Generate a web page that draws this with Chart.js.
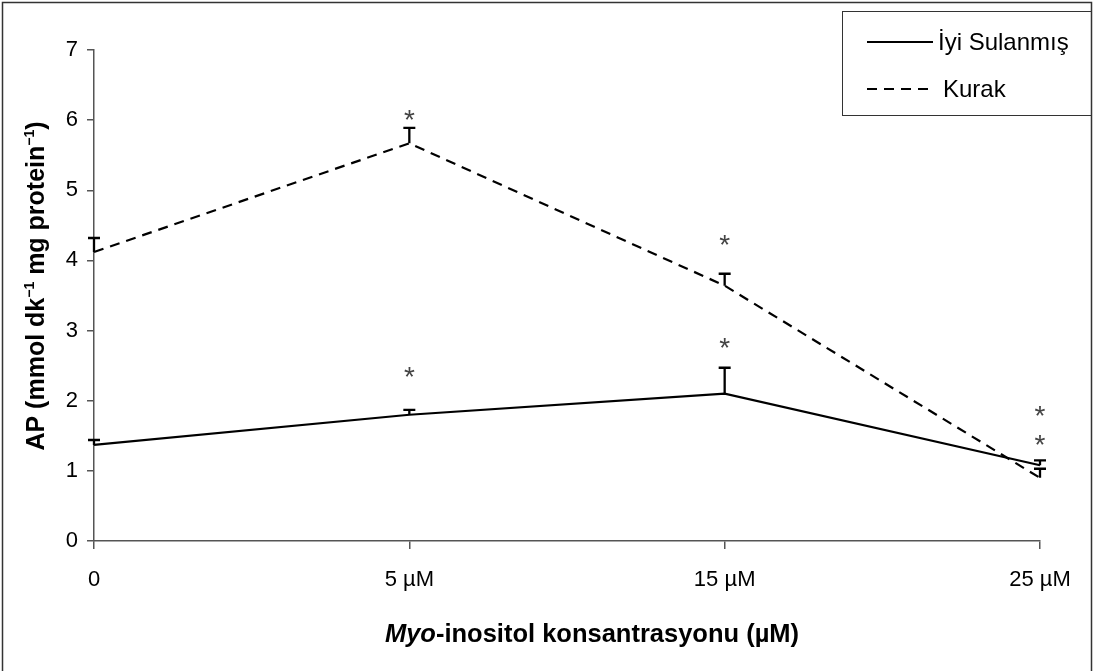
<!DOCTYPE html>
<html>
<head>
<meta charset="utf-8">
<script src="https://cdn.jsdelivr.net/npm/chart.js@4"></script>
<style>
  html, body { margin: 0; padding: 0; background: #fff; }
  #wrap { width: 1096px; height: 671px; position: relative; }
</style>
</head>
<body>
<div id="wrap"><canvas id="c" width="1096" height="671"></canvas></div>
<script>
// Myo-inositol concentrations on the x axis
const concentrations = ['0', '5 µM', '15 µM', '25 µM'];

// AP activity, well-watered plants (mean and upper error)
const wellWatered = [1.37, 1.80, 2.10, 1.08];
const wellWateredErr = [0.07, 0.07, 0.37, 0.07];

// AP activity, drought-stressed plants (mean and upper error)
const drought = [4.12, 5.67, 3.64, 0.90];
const droughtErr = [0.20, 0.22, 0.17, 0.13];

// Height (in axis units) of the significance asterisks
const wellWateredStars = [null, 2.41, 2.82, 1.44];
const droughtStars = [null, 6.07, 4.29, 1.85];

const yTicks = [0, 1, 2, 3, 4, 5, 6, 7];

const FONT = '"Liberation Sans", Arial, sans-serif';
const AXIS_COLOR = '#555555';

// Upward error bars with a cap, plus asterisks
const errorBars = {
  id: 'errorBars',
  afterDatasetsDraw(chart) {
    const ctx = chart.ctx;
    const xs = chart.scales.x, ys = chart.scales.y;
    const sets = [[wellWatered, wellWateredErr, wellWateredStars], [drought, droughtErr, droughtStars]];
    ctx.save();
    sets.forEach(([vals, errs, stars]) => {
      vals.forEach((v, i) => {
        const x = xs.getPixelForValue(i);
        const y0 = ys.getPixelForValue(v);
        const y1 = ys.getPixelForValue(v + errs[i]);
        ctx.strokeStyle = '#000';
        ctx.lineWidth = 2.3;
        ctx.beginPath();
        ctx.moveTo(x, y0);
        ctx.lineTo(x, y1);
        ctx.moveTo(x - 6, y1);
        ctx.lineTo(x + 6, y1);
        ctx.stroke();
        if (stars[i] != null) {
          ctx.fillStyle = '#444';
          ctx.font = '28px ' + FONT;
          ctx.textAlign = 'center';
          ctx.textBaseline = 'middle';
          ctx.fillText('*', x, ys.getPixelForValue(stars[i]) + 6);
        }
      });
    });
    ctx.restore();
  }
};

// Frame, legend box, and axis titles with mixed styles
const decorations = {
  id: 'decorations',
  afterDraw(chart) {
    const ctx = chart.ctx;
    ctx.save();
    // outer frame
    ctx.strokeStyle = '#333';
    ctx.lineWidth = 1.5;
    ctx.beginPath();
    ctx.moveTo(2.5, 671);
    ctx.lineTo(2.5, 2.5);
    ctx.lineTo(1091.5, 2.5);
    ctx.lineTo(1091.5, 671);
    ctx.stroke();

    // legend box
    ctx.lineWidth = 1;
    ctx.strokeStyle = '#333';
    ctx.strokeRect(842.5, 11.5, 249, 104);
    const items = chart.data.datasets;
    items.forEach((ds, k) => {
      const yy = k === 0 ? 42 : 89;
      ctx.strokeStyle = '#000';
      ctx.lineWidth = 2;
      ctx.setLineDash(ds.borderDash ? [10, 7] : []);
      ctx.beginPath();
      ctx.moveTo(867, yy);
      ctx.lineTo(k === 0 ? 933 : 929, yy);
      ctx.stroke();
      ctx.setLineDash([]);
      ctx.fillStyle = '#000';
      ctx.font = '24px ' + FONT;
      ctx.textAlign = 'left';
      ctx.textBaseline = 'middle';
      ctx.fillText(ds.label, k === 0 ? 938 : 943, yy + 1);
    });

    // x axis title: italic genus prefix followed by bold text
    const partA = 'Myo';
    const partB = '-inositol konsantrasyonu (µM)';
    const fA = 'italic bold 25.5px ' + FONT;
    const fB = 'bold 25.5px ' + FONT;
    ctx.font = fA; const wA = ctx.measureText(partA).width;
    ctx.font = fB; const wB = ctx.measureText(partB).width;
    const cx = 592;
    const x0 = cx - (wA + wB) / 2;
    ctx.fillStyle = '#000';
    ctx.textAlign = 'left';
    ctx.textBaseline = 'alphabetic';
    ctx.font = fA; ctx.fillText(partA, x0, 642);
    ctx.font = fB; ctx.fillText(partB, x0 + wA, 642);

    // y axis title with superscripts, rotated
    const segs = [
      { t: 'AP (mmol dk', sup: false },
      { t: '−1', sup: true },
      { t: ' mg protein', sup: false },
      { t: '−1', sup: true },
      { t: ')', sup: false }
    ];
    const fMain = 'bold 25px ' + FONT;
    const fSup = 'bold 14px ' + FONT;
    let total = 0;
    segs.forEach(s => { ctx.font = s.sup ? fSup : fMain; s.w = ctx.measureText(s.t).width; total += s.w; });
    ctx.translate(44, 286);
    ctx.rotate(-Math.PI / 2);
    let px = -total / 2;
    segs.forEach(s => {
      ctx.font = s.sup ? fSup : fMain;
      ctx.fillText(s.t, px, s.sup ? -10 : 0);
      px += s.w;
    });
    ctx.restore();
  }
};

new Chart(document.getElementById('c'), {
  type: 'line',
  data: {
    labels: concentrations,
    datasets: [
      {
        label: 'İyi Sulanmış',
        data: wellWatered,
        borderColor: '#000',
        borderWidth: 2.2,
        pointRadius: 0,
        tension: 0,
        fill: false
      },
      {
        label: 'Kurak',
        data: drought,
        borderColor: '#000',
        borderWidth: 2.2,
        borderDash: [10, 7],
        pointRadius: 0,
        tension: 0,
        fill: false
      }
    ]
  },
  options: {
    responsive: false,
    animation: false,
    events: [],
    layout: { padding: { top: 50, right: 56, left: 0, bottom: 0 } },
    plugins: { legend: { display: false }, tooltip: { enabled: false } },
    scales: {
      x: {
        type: 'category',
        offset: false,
        grid: { drawOnChartArea: false, drawTicks: true, tickLength: 8, color: AXIS_COLOR, lineWidth: 1.5 },
        border: { color: AXIS_COLOR, width: 1.5 },
        ticks: { color: '#000', font: { family: FONT, size: 22 }, padding: 18, maxRotation: 0, autoSkip: false },
        afterFit(s) { s.height = 130; }
      },
      y: {
        min: 0,
        max: 7,
        afterBuildTicks(s) { s.ticks = yTicks.map(v => ({ value: v })); },
        grid: { drawOnChartArea: false, drawTicks: true, tickLength: 7, color: AXIS_COLOR, lineWidth: 1.5 },
        border: { color: AXIS_COLOR, width: 1.5 },
        ticks: { color: '#000', font: { family: FONT, size: 22 }, padding: 9 },
        afterFit(s) { s.width = 94; }
      }
    }
  },
  plugins: [errorBars, decorations]
});
</script>
</body>
</html>
